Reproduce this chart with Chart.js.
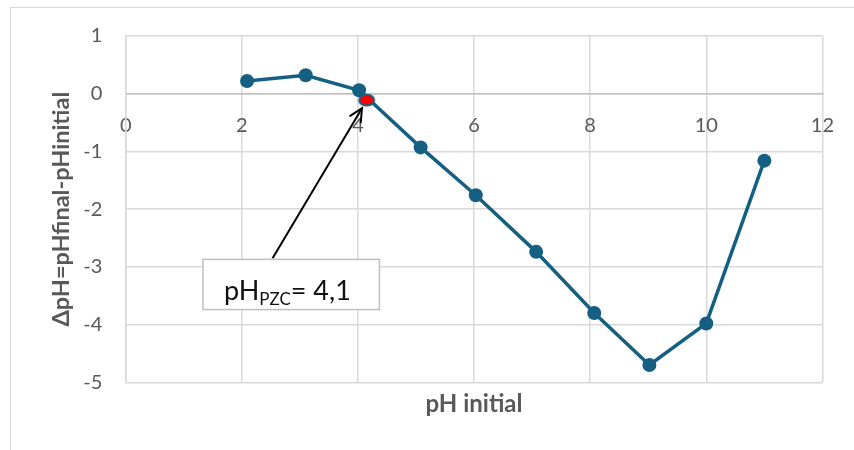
<!DOCTYPE html>
<html>
<head>
<meta charset="utf-8">
<script src="https://cdn.jsdelivr.net/npm/chart.js@4.4.1/dist/chart.umd.min.js"></script>
<style>
  html, body { margin: 0; padding: 0; background: #ffffff; overflow: hidden; }
  #wrap { position: relative; width: 854px; height: 450px; overflow: hidden; }
  #frame { position: absolute; left: 10px; top: 7px; width: 1000px; height: 600px;
           border-top: 1.5px solid #d9d9d9; border-left: 1.5px solid #d9d9d9; }
  canvas { position: absolute; left: 0; top: 0; }
</style>
</head>
<body>
<div id="wrap">
  <div id="frame"></div>
  <canvas id="c" width="854" height="450"></canvas>
</div>
<script>
// ---- data ----
const phInitial = [2.09, 3.10, 4.02, 5.08, 6.03, 7.07, 8.07, 9.02, 10.0, 11.0];
const deltaPH   = [0.22, 0.32, 0.06, -0.93, -1.76, -2.74, -3.80, -4.70, -3.98, -1.16];
const pzcX = [4.15];
const pzcY = [-0.11];
const xTicks = [0, 2, 4, 6, 8, 10, 12];
const yTicks = [-5, -4, -3, -2, -1, 0, 1];
const xTitle = 'pH initial';
const yTitle = 'ΔpH=pHfinal-pHinitial';
const calloutMain = 'pH';
const calloutSub = 'PZC';
const calloutRest = '= 4,1';
// callout anchors in data units
const calloutBox = {x0: 1.33, x1: 4.37, y0: -2.87, y1: -3.74};
const arrowFrom = {x: 2.53, y: -2.85};
const arrowTo = {x: 4.07, y: -0.25};

const lineColor = '#156082';
const gridColor = '#d9d9d9';
const textColor = '#595959';

// ellipse point style for the PZC marker
const ell = document.createElement('canvas');
ell.width = 20; ell.height = 16;
(function(){
  const g = ell.getContext('2d');
  g.beginPath();
  g.ellipse(10, 8, 7.5, 5.5, 0, 0, Math.PI * 2);
  g.fillStyle = '#ff0000';
  g.fill();
  g.lineWidth = 2;
  g.strokeStyle = lineColor;
  g.stroke();
})();

const calloutPlugin = {
  id: 'callout',
  afterDraw(chart) {
    const {ctx, scales: {x, y}} = chart;
    ctx.save();
    // arrow
    const ax0 = x.getPixelForValue(arrowFrom.x), ay0 = y.getPixelForValue(arrowFrom.y);
    const ax1 = x.getPixelForValue(arrowTo.x), ay1 = y.getPixelForValue(arrowTo.y);
    ctx.strokeStyle = '#000000';
    ctx.lineWidth = 2;
    ctx.beginPath();
    ctx.moveTo(ax0, ay0);
    ctx.lineTo(ax1, ay1);
    ctx.stroke();
    const ang = Math.atan2(ay1 - ay0, ax1 - ax0);
    const hl = 15, ha = 0.45;
    ctx.beginPath();
    ctx.moveTo(ax1 - hl * Math.cos(ang - ha), ay1 - hl * Math.sin(ang - ha));
    ctx.lineTo(ax1, ay1);
    ctx.lineTo(ax1 - hl * Math.cos(ang + ha), ay1 - hl * Math.sin(ang + ha));
    ctx.stroke();
    // box
    const bx0 = x.getPixelForValue(calloutBox.x0), bx1 = x.getPixelForValue(calloutBox.x1);
    const by0 = y.getPixelForValue(calloutBox.y0), by1 = y.getPixelForValue(calloutBox.y1);
    ctx.fillStyle = '#ffffff';
    ctx.fillRect(bx0, by0, bx1 - bx0, by1 - by0);
    ctx.strokeStyle = '#bfbfbf';
    ctx.lineWidth = 1.5;
    ctx.strokeRect(bx0, by0, bx1 - bx0, by1 - by0);
    // text
    const tx = bx0 + 21, ty = by0 + 41;
    ctx.fillStyle = '#111111';
    ctx.textBaseline = 'alphabetic';
    ctx.textAlign = 'left';
    ctx.font = '27px Lato';
    ctx.fillText(calloutMain, tx, ty);
    let w = ctx.measureText(calloutMain).width;
    ctx.font = '17px Lato';
    ctx.fillText(calloutSub, tx + w, ty + 5);
    w += ctx.measureText(calloutSub).width;
    ctx.font = '27px Lato';
    ctx.fillText(calloutRest, tx + w, ty);
    ctx.restore();
  }
};

new Chart(document.getElementById('c'), {
  type: 'scatter',
  data: {
    datasets: [
      {
        label: 'pzc',
        data: pzcX.map((v, i) => ({x: v, y: pzcY[i]})),
        pointStyle: ell,
        pointRadius: 8,
        showLine: false,
        order: 0
      },
      {
        label: 'ΔpH',
        data: phInitial.map((v, i) => ({x: v, y: deltaPH[i]})),
        showLine: true,
        borderColor: lineColor,
        borderWidth: 3.5,
        backgroundColor: lineColor,
        pointBackgroundColor: lineColor,
        pointBorderColor: lineColor,
        pointRadius: 7,
        pointBorderWidth: 0,
        order: 1
      }
    ]
  },
  options: {
    responsive: false,
    animation: false,
    devicePixelRatio: 1,
    layout: { padding: { left: 47.4, right: 27.3, top: 36, bottom: 31.6 } },
    plugins: { legend: { display: false }, tooltip: { enabled: false } },
    scales: {
      x: {
        type: 'linear',
        position: { y: 0 },
        min: 0, max: 12,
        afterBuildTicks(s) { s.ticks = xTicks.map(v => ({value: v})); },
        afterFit(s) { s.height = 0; },
        ticks: { font: { family: 'Lato', size: 20 }, color: textColor, padding: 20 },
        grid: { color: gridColor, lineWidth: 1.5, drawTicks: false },
        border: { color: '#bfbfbf', width: 1.5 }
      },
      x2: {
        type: 'linear',
        position: 'bottom',
        min: 0, max: 12,
        ticks: { display: false },
        grid: { display: false, drawTicks: false },
        border: { display: false },
        title: { display: true, text: xTitle, color: textColor,
                 font: { family: 'Lato', size: 24, weight: 'bold' },
                 padding: { top: 7.3, bottom: 0 } }
      },
      y: {
        type: 'linear',
        position: 'left',
        min: -5, max: 1,
        afterBuildTicks(s) { s.ticks = yTicks.map(v => ({value: v})); },
        afterFit(s) { s.width = 78.3; },
        ticks: { font: { family: 'Lato', size: 20 }, color: textColor, padding: 23.4 },
        grid: { color: gridColor, lineWidth: 1.5, drawTicks: false },
        border: { color: gridColor, width: 1.5 },
        title: { display: true, text: yTitle, color: textColor,
                 font: { family: 'Lato', size: 23.5, weight: 'bold' },
                 padding: 0 }
      }
    }
  },
  plugins: [calloutPlugin]
});
</script>
</body>
</html>
